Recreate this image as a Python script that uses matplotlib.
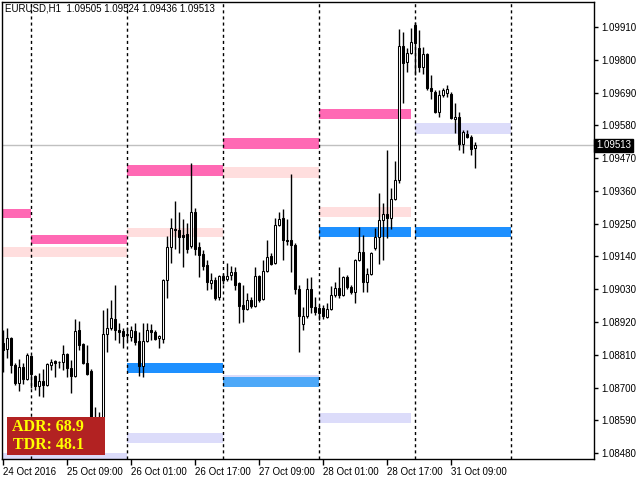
import numpy as np
import matplotlib.pyplot as plt
from matplotlib.patches import Rectangle
from matplotlib.transforms import blended_transform_factory

# EURUSD H1 candles, 24 Oct 17:00 .. 31 Oct 15:00 (one entry per hour bar)
opens = [1.08849, 1.08829, 1.08866, 1.08775, 1.08715, 1.08769, 1.08728, 1.08806, 1.08739, 1.08705,
         1.08722, 1.08708, 1.08775, 1.08789, 1.08786, 1.08785, 1.08812, 1.08766, 1.08739, 1.08893,
         1.08846, 1.08782, 1.08755, 1.08574, 1.08524, 1.08591, 1.08879, 1.08900, 1.08930, 1.08893,
         1.08890, 1.08876, 1.08869, 1.08890, 1.08856, 1.08772, 1.08856, 1.08893, 1.08886, 1.08866,
         1.08863, 1.09061, 1.09171, 1.09232, 1.09230, 1.09212, 1.09215, 1.09175, 1.09289, 1.09171,
         1.09148, 1.09111, 1.09050, 1.09061, 1.09004, 1.09074, 1.09064, 1.09077, 1.09087, 1.09050,
         1.08977, 1.08963, 1.08994, 1.08973, 1.09074, 1.08997, 1.09091, 1.09141, 1.09118, 1.09245,
         1.09269, 1.09195, 1.09195, 1.09178, 1.09030, 1.08913, 1.08940, 1.09030, 1.08970, 1.08967,
         1.08967, 1.08936, 1.08963, 1.09010, 1.09034, 1.09010, 1.09071, 1.09037, 1.09020, 1.09128,
         1.09155, 1.09054, 1.09081, 1.09168, 1.09205, 1.09262, 1.09282, 1.09269, 1.09333, 1.09396,
         1.09846, 1.09792, 1.09823, 1.09917, 1.09839, 1.09776, 1.09819, 1.09705, 1.09692, 1.09624,
         1.09682, 1.09688, 1.09685, 1.09601, 1.09608, 1.09517, 1.09551, 1.09541, 1.09505]
highs = [1.08893, 1.08900, 1.08869, 1.08782, 1.08795, 1.08782, 1.08816, 1.08809, 1.08742, 1.08749,
         1.08762, 1.08782, 1.08795, 1.08792, 1.08790, 1.08843, 1.08816, 1.08792, 1.08929, 1.08923,
         1.08848, 1.08843, 1.08762, 1.08634, 1.08617, 1.08960, 1.08967, 1.08994, 1.09044, 1.08916,
         1.08900, 1.08903, 1.08906, 1.08916, 1.08886, 1.08916, 1.08916, 1.08913, 1.08893, 1.08876,
         1.09065, 1.09208, 1.09269, 1.09326, 1.09289, 1.09266, 1.09252, 1.09454, 1.09302, 1.09188,
         1.09161, 1.09128, 1.09084, 1.09071, 1.09077, 1.09081, 1.09118, 1.09108, 1.09104, 1.09054,
         1.09044, 1.09017, 1.09004, 1.09104, 1.09077, 1.09128, 1.09195, 1.09151, 1.09269, 1.09289,
         1.09299, 1.09266, 1.09416, 1.09185, 1.09044, 1.08970, 1.09067, 1.09071, 1.09004, 1.08977,
         1.08977, 1.08984, 1.09040, 1.09054, 1.09104, 1.09074, 1.09077, 1.09044, 1.09131, 1.09239,
         1.09212, 1.09101, 1.09155, 1.09235, 1.09353, 1.09319, 1.09497, 1.09370, 1.09460, 1.09905,
         1.09893, 1.09839, 1.09907, 1.09927, 1.09900, 1.09843, 1.09823, 1.09749, 1.09698, 1.09698,
         1.09705, 1.09715, 1.09692, 1.09655, 1.09625, 1.09564, 1.09564, 1.09547, 1.09524]
lows = [1.08752, 1.08799, 1.08749, 1.08708, 1.08688, 1.08711, 1.08725, 1.08698, 1.08691, 1.08671,
        1.08668, 1.08705, 1.08759, 1.08735, 1.08766, 1.08759, 1.08735, 1.08681, 1.08735, 1.08826,
        1.08779, 1.08742, 1.08540, 1.08517, 1.08500, 1.08580, 1.08819, 1.08893, 1.08859, 1.08849,
        1.08832, 1.08856, 1.08856, 1.08843, 1.08739, 1.08735, 1.08853, 1.08859, 1.08859, 1.08832,
        1.08849, 1.09000, 1.09118, 1.09165, 1.09151, 1.09104, 1.09151, 1.09168, 1.09144, 1.09071,
        1.09094, 1.09027, 1.09030, 1.08994, 1.08994, 1.09047, 1.09057, 1.09061, 1.09027, 1.08916,
        1.08920, 1.08960, 1.08967, 1.08970, 1.08987, 1.08994, 1.09088, 1.09111, 1.09115, 1.09242,
        1.09128, 1.09178, 1.09087, 1.09014, 1.08819, 1.08893, 1.08933, 1.08950, 1.08943, 1.08926,
        1.08930, 1.08933, 1.08960, 1.09004, 1.09000, 1.09007, 1.09030, 1.09014, 1.08984, 1.09125,
        1.09020, 1.09020, 1.09077, 1.09161, 1.09114, 1.09128, 1.09201, 1.09232, 1.09329, 1.09386,
        1.09655, 1.09759, 1.09820, 1.09749, 1.09759, 1.09752, 1.09698, 1.09668, 1.09621, 1.09608,
        1.09675, 1.09675, 1.09601, 1.09554, 1.09497, 1.09487, 1.09537, 1.09480, 1.09436]
closes = [1.08826, 1.08866, 1.08775, 1.08715, 1.08769, 1.08728, 1.08809, 1.08745, 1.08705, 1.08722,
          1.08708, 1.08779, 1.08786, 1.08782, 1.08785, 1.08812, 1.08766, 1.08739, 1.08890, 1.08843,
          1.08782, 1.08745, 1.08574, 1.08534, 1.08587, 1.08879, 1.08900, 1.08933, 1.08893, 1.08886,
          1.08873, 1.08878, 1.08893, 1.08853, 1.08772, 1.08856, 1.08893, 1.08886, 1.08863, 1.08873,
          1.09061, 1.09171, 1.09235, 1.09230, 1.09205, 1.09206, 1.09165, 1.09289, 1.09165, 1.09144,
          1.09108, 1.09054, 1.09061, 1.09000, 1.09074, 1.09061, 1.09074, 1.09087, 1.09044, 1.08973,
          1.08963, 1.08994, 1.08973, 1.09074, 1.08994, 1.09091, 1.09138, 1.09114, 1.09245, 1.09266,
          1.09195, 1.09192, 1.09178, 1.09030, 1.08940, 1.08940, 1.09030, 1.08970, 1.08953, 1.08950,
          1.08940, 1.08963, 1.09010, 1.09034, 1.09010, 1.09071, 1.09037, 1.09020, 1.09128, 1.09155,
          1.09054, 1.09081, 1.09151, 1.09205, 1.09262, 1.09282, 1.09269, 1.09333, 1.09396, 1.09846,
          1.09789, 1.09823, 1.09860, 1.09856, 1.09776, 1.09819, 1.09705, 1.09695, 1.09624, 1.09682,
          1.09698, 1.09702, 1.09604, 1.09608, 1.09517, 1.09557, 1.09541, 1.09500, 1.09513]

# day zones (bar index of start / end) and band levels (top, bottom)
day_start = [-1, 7, 31, 55, 79, 103]
day_end = [7, 31, 55, 79, 102, 127]
separators = [7, 31, 55, 79, 103, 127]
adr_high = [(1.09300, 1.09269), (1.09212, 1.09181), (1.09447, 1.09410),
            (1.09537, 1.09500), (1.09634, 1.09601), None]
tdr_high = [(1.09171, 1.09138), (1.09171, 1.09138), (1.09235, 1.09205),
            (1.09440, 1.09403), (1.09306, 1.09272), None]
tdr_low = [(1.08480, 1.08440), (1.08480, 1.08440), (1.08547, 1.08514),
           (1.08742, 1.08708), (1.08614, 1.08580), (1.09587, 1.09551)]
adr_low = [None, None, (1.08782, 1.08749), (1.08735, 1.08701),
           (1.09239, 1.09205), (1.09239, 1.09205)]
adr_low_colors = ['#1E90FF', '#1E90FF', '#1E90FF', '#4DA8F8', '#1E90FF', '#1E90FF']

xtick_pos = [0, 16, 32, 48, 64, 80, 96, 112]
xtick_labels = ['24 Oct 2016', '25 Oct 09:00', '26 Oct 01:00', '26 Oct 17:00',
                '27 Oct 09:00', '28 Oct 01:00', '28 Oct 17:00', '31 Oct 09:00']
ytick_pos = [1.08480, 1.08590, 1.08700, 1.08810, 1.08920, 1.09030, 1.09140,
             1.09250, 1.09360, 1.09470, 1.09580, 1.09690, 1.09800, 1.09910]
last_price = 1.09513
adr_value = 68.9
tdr_value = 48.1

plt.rcParams['font.family'] = ['Liberation Sans', 'DejaVu Sans']

fig = plt.figure(figsize=(6.4, 4.8), dpi=100)
ax = fig.add_axes([2 / 640, 1 - 459 / 480, 592 / 640, 457 / 480])
ax.set_xlim(-0.25, 147.75)
ax.set_ylim(1.08460, 1.09994)

# current price line
ax.axhline(last_price, color='#C0C0C0', lw=1, zorder=1)

# ADR / TDR zones
def band(levels, color, zo):
    for s, e, lv in zip(day_start, day_end, levels):
        if lv is None:
            continue
        ax.add_patch(Rectangle((s, lv[1]), e - s, lv[0] - lv[1], facecolor=color,
                               edgecolor='none', zorder=zo))

band(adr_high, '#FF69B4', 2)
band(tdr_high, '#FFDEDE', 2)
band(tdr_low, '#DCDCFA', 2)
for s, e, lv, c in zip(day_start, day_end, adr_low, adr_low_colors):
    if lv is not None:
        ax.add_patch(Rectangle((s, lv[1]), e - s, lv[0] - lv[1], facecolor=c,
                               edgecolor='none', zorder=2.5))

# period separators
for sx in separators:
    ax.axvline(sx, color='black', lw=1, ls=(0, (2.2, 2.2)), zorder=3)

# candles
idx = np.arange(len(opens))
o = np.array(opens)
h = np.array(highs)
l = np.array(lows)
c = np.array(closes)
ax.vlines(idx, l, h, color='black', lw=1, zorder=4)
up = c >= o
ax.bar(idx[up], c[up] - o[up], bottom=o[up], width=0.5, facecolor='white',
       edgecolor='black', linewidth=0.75, zorder=5)
ax.bar(idx[~up], o[~up] - c[~up], bottom=c[~up], width=0.5, facecolor='black',
       edgecolor='black', linewidth=0.75, zorder=5)

# axes styling
for sp in ax.spines.values():
    sp.set_color('black')
    sp.set_linewidth(1)
ax.set_xticks(xtick_pos)
ax.set_xticklabels(xtick_labels, ha='left', fontsize=7)
ax.tick_params(axis='x', direction='out', length=4, width=1, pad=2)
ax.yaxis.tick_right()
ax.set_yticks(ytick_pos)
ax.set_yticklabels(['%.5f' % v for v in ytick_pos], fontsize=7)
ax.tick_params(axis='y', direction='out', length=3, width=1, pad=2)

trans = blended_transform_factory(ax.transAxes, ax.transData)
ax.text(1.0 + 2 / 592, last_price, '%.5f' % last_price, transform=trans, fontsize=7,
        color='white', va='center', ha='left', clip_on=False, zorder=10,
        bbox=dict(facecolor='black', edgecolor='black', pad=1.2))

ax.text(0.005, 0.985, 'EURUSD,H1  1.09505 1.09524 1.09436 1.09513', transform=ax.transAxes,
        fontsize=7, va='center', ha='left', zorder=10)

# ADR info box
ax.add_patch(Rectangle((0.0084, 0.0088), 0.166, 0.083, transform=ax.transAxes,
                       facecolor='#B22222', edgecolor='none', zorder=8))
ax.text(0.017, 0.070, 'ADR: %.1f' % adr_value, transform=ax.transAxes, color='#FFFF00',
        fontsize=11.5, family='Liberation Serif', fontweight='semibold',
        va='center', ha='left', zorder=9)
ax.text(0.019, 0.031, 'TDR: %.1f' % tdr_value, transform=ax.transAxes, color='#FFFF00',
        fontsize=11.5, family='Liberation Serif', fontweight='semibold',
        va='center', ha='left', zorder=9)

fig.savefig('out.png', dpi=100)
